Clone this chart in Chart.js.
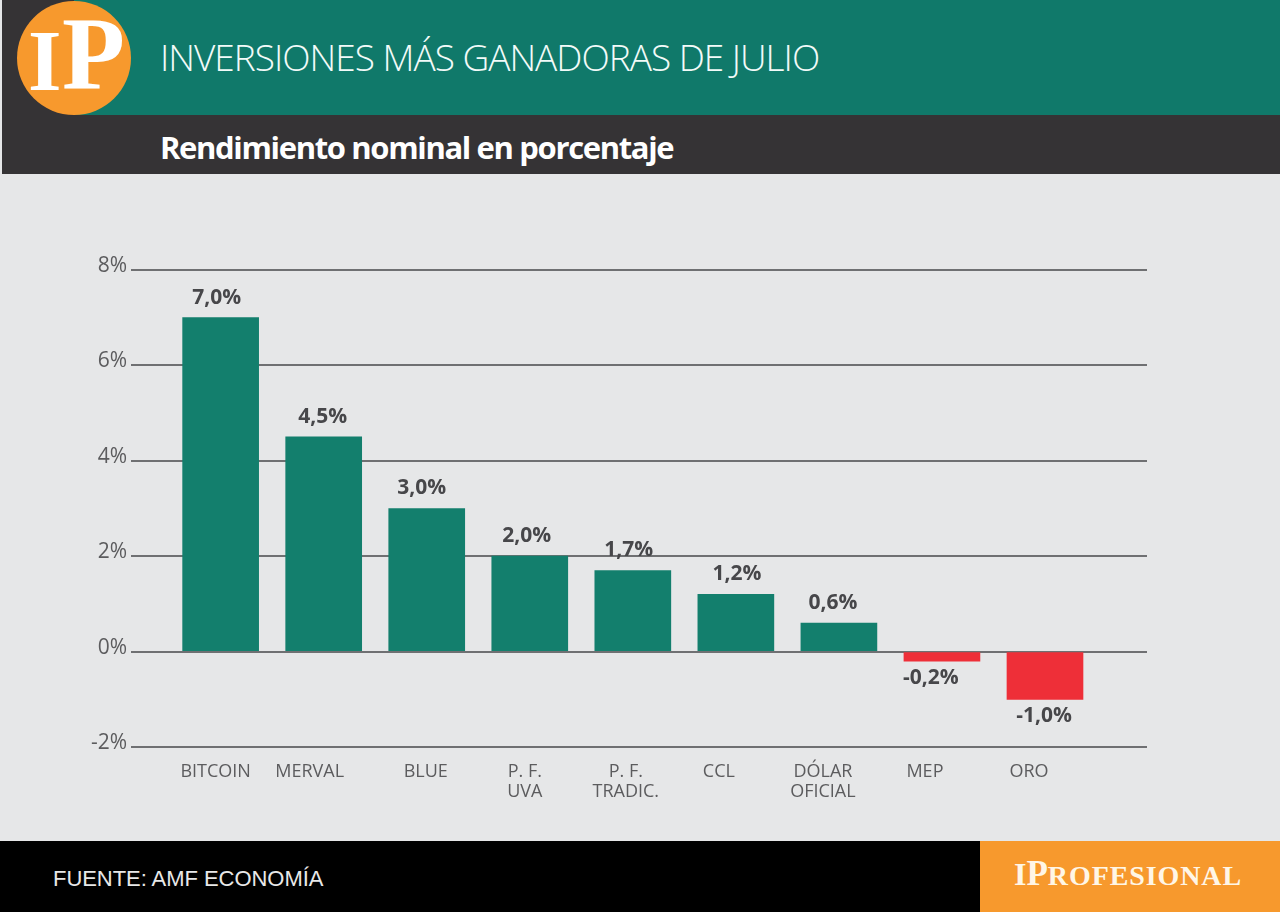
<!DOCTYPE html>
<html>
<head>
<meta charset="utf-8">
<script src="https://cdn.jsdelivr.net/npm/chart.js@4"></script>
<style>
  html, body { margin: 0; padding: 0; }
  body { width: 1280px; height: 912px; position: relative; overflow: hidden; background: #e6e7e8; font-family: "Open Sans", sans-serif; }
  .box { position: absolute; }
  .txt { position: absolute; white-space: nowrap; line-height: 1; }
  #chartWrap { position: absolute; left: 0; top: 174px; width: 1280px; height: 666px; }
</style>
</head>
<body>
<div class="box" style="left:2px;top:0;width:1278px;height:174px;background:#353335"></div>
<div class="box" style="left:74px;top:0;width:1206px;height:115px;background:#10796a"></div>
<div class="box" style="left:17px;top:1px;width:114px;height:114px;border-radius:50%;background:#f7992d"></div>
<div class="txt" style="left:28px;top:11px;font:bold 86px 'Liberation Serif';color:#fff">I</div>
<div class="txt" style="left:62px;top:-5px;font:bold 103px 'Liberation Serif';color:#fff">P</div>
<div class="txt" id="title" style="left:160px;top:38px;font-size:37px;font-weight:300;letter-spacing:-1px;color:#f2fbf9">INVERSIONES MÁS GANADORAS DE JULIO</div>
<div class="txt" id="sub" style="left:160px;top:132px;font-size:31px;font-weight:700;letter-spacing:-1.35px;color:#fff">Rendimiento nominal en porcentaje</div>

<div id="chartWrap"><canvas id="myChart"></canvas></div>

<div class="box" style="left:0;top:841px;width:980px;height:71px;background:#000"></div>
<div class="box" style="left:980px;top:841px;width:300px;height:71px;background:#f7992d"></div>
<div class="txt" style="left:53px;top:866px;font:22px 'Liberation Sans';letter-spacing:-0.05px;color:#e8e8e8">FUENTE: AMF ECONOMÍA</div>
<div class="txt" style="left:1014px;top:854px;font:bold 32px 'Liberation Serif';color:#fff6e6">I<span style="font-size:35px">P</span><span style="font-size:28px;letter-spacing:0.9px">ROFESIONAL</span></div>

<script>
const categories = ['BITCOIN', 'MERVAL', 'BLUE', 'P. F.|UVA', 'P. F.|TRADIC.', 'CCL', 'DÓLAR|OFICIAL', 'MEP', 'ORO'];
const rendimiento = [7.0, 4.5, 3.0, 2.0, 1.7, 1.2, 0.6, -0.2, -1.0];
const yTicks = [-2, 0, 2, 4, 6, 8];

const GREEN = '#137f6d';
const RED = '#ee2f38';
const TEXT = '#5c5c5e';

// los rotulos del original no estan centrados con las barras
const catNudge = [-5, -14, -1, -5, -7, -17, -16, -17, -16];
const valNudge = [-4, -1, -5, -3, -4, 1, -6, -11, -1];

const barLabels = {
    id: 'barLabels',
    afterDatasetsDraw(chart) {
        const ctx = chart.ctx;
        const bars = chart.getDatasetMeta(0).data;
        const bottom = chart.scales.y.getPixelForValue(-2);
        ctx.save();
        ctx.textAlign = 'center';
        ctx.textBaseline = 'middle';
        bars.forEach((bar, i) => {
            const v = rendimiento[i];
            ctx.font = '700 21px "Open Sans"';
            ctx.fillStyle = '#47474a';
            const y = v >= 0 ? bar.y - 20 : bar.y + 17;
            ctx.fillText(v.toFixed(1).replace('.', ',') + '%', bar.x + valNudge[i], y);

            ctx.font = '18px "Open Sans"';
            ctx.fillStyle = TEXT;
            categories[i].split('|').forEach((line, n) => {
                ctx.fillText(line, bar.x + catNudge[i], bottom + 25 + n * 20);
            });
        });
        ctx.restore();
    }
};

new Chart(document.getElementById('myChart').getContext('2d'), {
    type: 'bar',
    data: {
        labels: categories.map(c => c.replace('|', ' ')),
        datasets: [{
            label: 'Rendimiento nominal en porcentaje',
            data: rendimiento.map((v, i) => ({ x: i, y: v })),
            backgroundColor: rendimiento.map(v => v < 0 ? RED : GREEN),
            barThickness: 76
        }]
    },
    options: {
        responsive: true,
        maintainAspectRatio: false,
        animation: false,
        layout: { padding: { top: 96, bottom: 93, left: 0, right: 133 } },
        plugins: { legend: { display: false }, tooltip: { enabled: false } },
        scales: {
            x: {
                type: 'linear',
                display: false,
                offset: false,
                min: -0.87,
                max: 8.99
            },
            y: {
                min: -2,
                max: 8,
                afterFit: scale => { scale.width = 131; },
                afterBuildTicks: scale => { scale.ticks = yTicks.map(value => ({ value })); },
                border: { display: false },
                grid: { color: '#6f7072', lineWidth: 2, drawTicks: false },
                ticks: {
                    padding: 4,
                    labelOffset: -4,
                    color: TEXT,
                    font: { family: '"Open Sans"', size: 21 },
                    callback: v => v + '%'
                }
            }
        }
    },
    plugins: [barLabels]
});
</script>
</body>
</html>
